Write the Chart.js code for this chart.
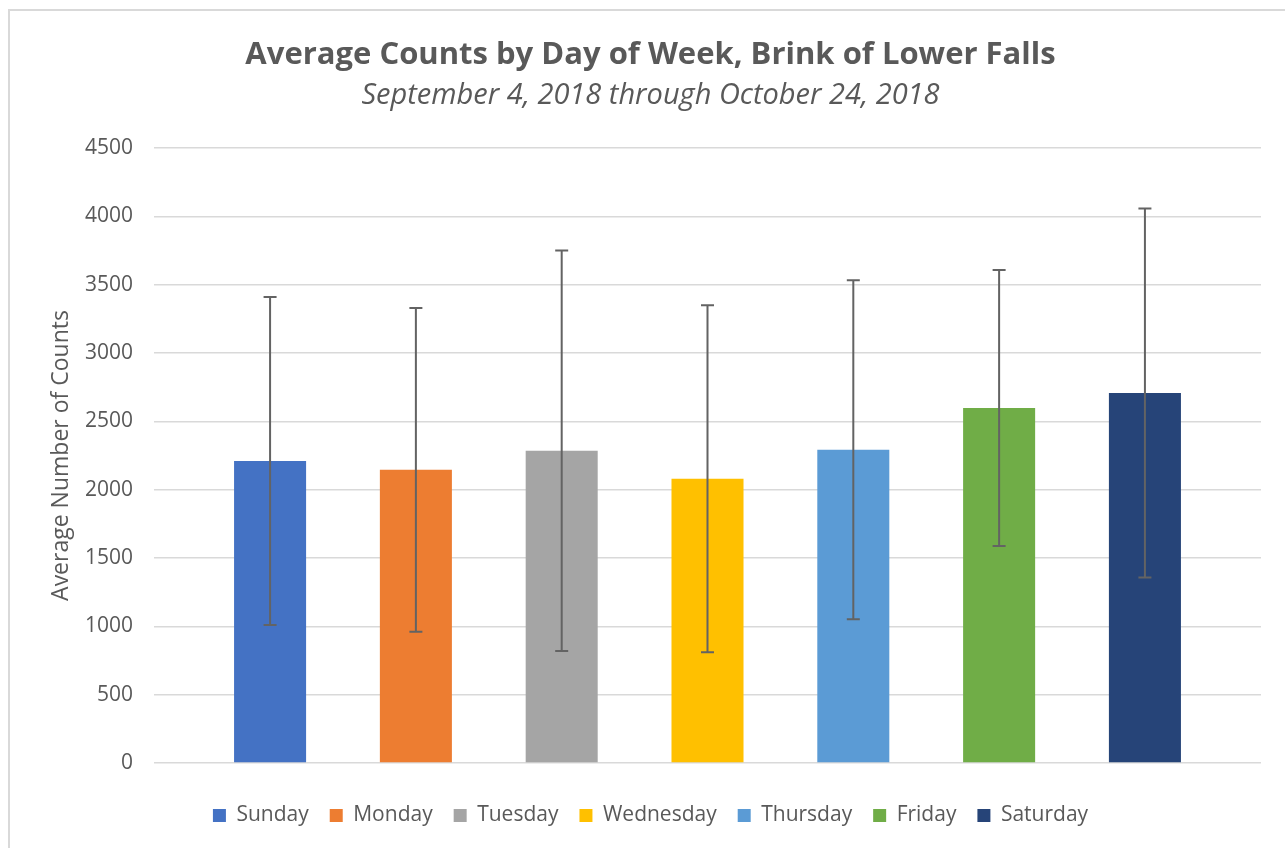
<!DOCTYPE html>
<html>
<head>
<meta charset="utf-8">
<script src="https://cdn.jsdelivr.net/npm/chart.js@4"></script>
<style>
  html, body { margin: 0; padding: 0; background: #fff; }
  canvas { display: block; }
</style>
</head>
<body>
<canvas id="dayChart" width="1285" height="848"></canvas>
<script>
// Average counts per weekday with standard deviation
const days = ['Sunday', 'Monday', 'Tuesday', 'Wednesday', 'Thursday', 'Friday', 'Saturday'];
const avgCounts = [2210, 2145, 2285, 2080, 2292, 2598, 2707];
const stdDev = [1200, 1185, 1465, 1270, 1240, 1010, 1350];
const dayColors = ['#4472C4', '#ED7D31', '#A5A5A5', '#FFC000', '#5B9BD5', '#70AD47', '#264478'];
const yTicks = [0, 500, 1000, 1500, 2000, 2500, 3000, 3500, 4000, 4500];

const fontFamily = "'Open Sans', sans-serif";
const textColor = '#595959';

// One dataset per day so the legend lists every day (like the Excel chart)
const datasets = days.map((day, i) => ({
    label: day,
    data: [avgCounts[i]],
    backgroundColor: dayColors[i],
    borderWidth: 0,
    categoryPercentage: 0.922,
    barPercentage: 0.494
}));

// Frame around the chart, white background
const framePlugin = {
    id: 'frame',
    beforeDraw(chart) {
        const ctx = chart.ctx;
        ctx.save();
        ctx.fillStyle = '#fff';
        ctx.fillRect(0, 0, chart.width, chart.height);
        ctx.strokeStyle = '#d9d9d9';
        ctx.lineWidth = 2;
        ctx.strokeRect(9, 10, chart.width + 20, chart.height + 20);
        ctx.restore();
    }
};

// Error bars: mean +/- standard deviation
const errorBarPlugin = {
    id: 'errorBars',
    afterDatasetsDraw(chart) {
        const ctx = chart.ctx;
        const yScale = chart.scales.y;
        ctx.save();
        ctx.strokeStyle = '#636363';
        ctx.lineWidth = 2;
        chart.data.datasets.forEach((ds, i) => {
            const bar = chart.getDatasetMeta(i).data[0];
            const top = yScale.getPixelForValue(avgCounts[i] + stdDev[i]);
            const bottom = yScale.getPixelForValue(avgCounts[i] - stdDev[i]);
            const x = bar.x;
            ctx.beginPath();
            ctx.moveTo(x, top);
            ctx.lineTo(x, bottom);
            ctx.moveTo(x - 6.5, top);
            ctx.lineTo(x + 6.5, top);
            ctx.moveTo(x - 6.5, bottom);
            ctx.lineTo(x + 6.5, bottom);
            ctx.stroke();
        });
        ctx.restore();
    }
};

new Chart(document.getElementById('dayChart').getContext('2d'), {
    type: 'bar',
    data: {
        labels: [''],
        datasets: datasets
    },
    options: {
        responsive: false,
        maintainAspectRatio: false,
        animation: false,
        layout: {
            padding: { left: 40, right: 24, top: 0, bottom: 12 }
        },
        scales: {
            x: {
                display: true,
                grid: { display: false },
                border: { display: false },
                ticks: { display: false },
                afterFit: (scale) => {
                    scale.height = 21; // space between plot and legend
                }
            },
            y: {
                min: 0,
                max: 4500,
                afterBuildTicks: (scale) => {
                    scale.ticks = yTicks.map(v => ({ value: v }));
                },
                afterFit: (scale) => {
                    scale.width = 114;
                },
                grid: {
                    color: '#d9d9d9',
                    lineWidth: 1.5,
                    drawTicks: false
                },
                border: { display: false },
                ticks: {
                    padding: 21,
                    color: textColor,
                    font: { family: fontFamily, size: 21 },
                    callback: function(value) {
                        return String(value); // no thousands separator
                    }
                },
                title: {
                    display: true,
                    text: 'Average Number of Counts',
                    color: textColor,
                    font: { family: fontFamily, size: 23 },
                    padding: { top: 8, bottom: 0 }
                }
            }
        },
        plugins: {
            title: {
                display: true,
                text: 'Average Counts by Day of Week, Brink of Lower Falls',
                color: textColor,
                font: { family: fontFamily, size: 31, weight: 'bold' },
                padding: { top: 37, bottom: 4 }
            },
            subtitle: {
                display: true,
                text: 'September 4, 2018 through October 24, 2018',
                color: textColor,
                font: { family: fontFamily, size: 29, style: 'italic' },
                padding: { top: 0, bottom: 35 }
            },
            legend: {
                position: 'bottom',
                labels: {
                    boxWidth: 13,
                    boxHeight: 13,
                    padding: 21,
                    color: textColor,
                    font: { family: fontFamily, size: 21 }
                }
            },
            tooltip: { enabled: false }
        }
    },
    plugins: [framePlugin, errorBarPlugin]
});
</script>
</body>
</html>
